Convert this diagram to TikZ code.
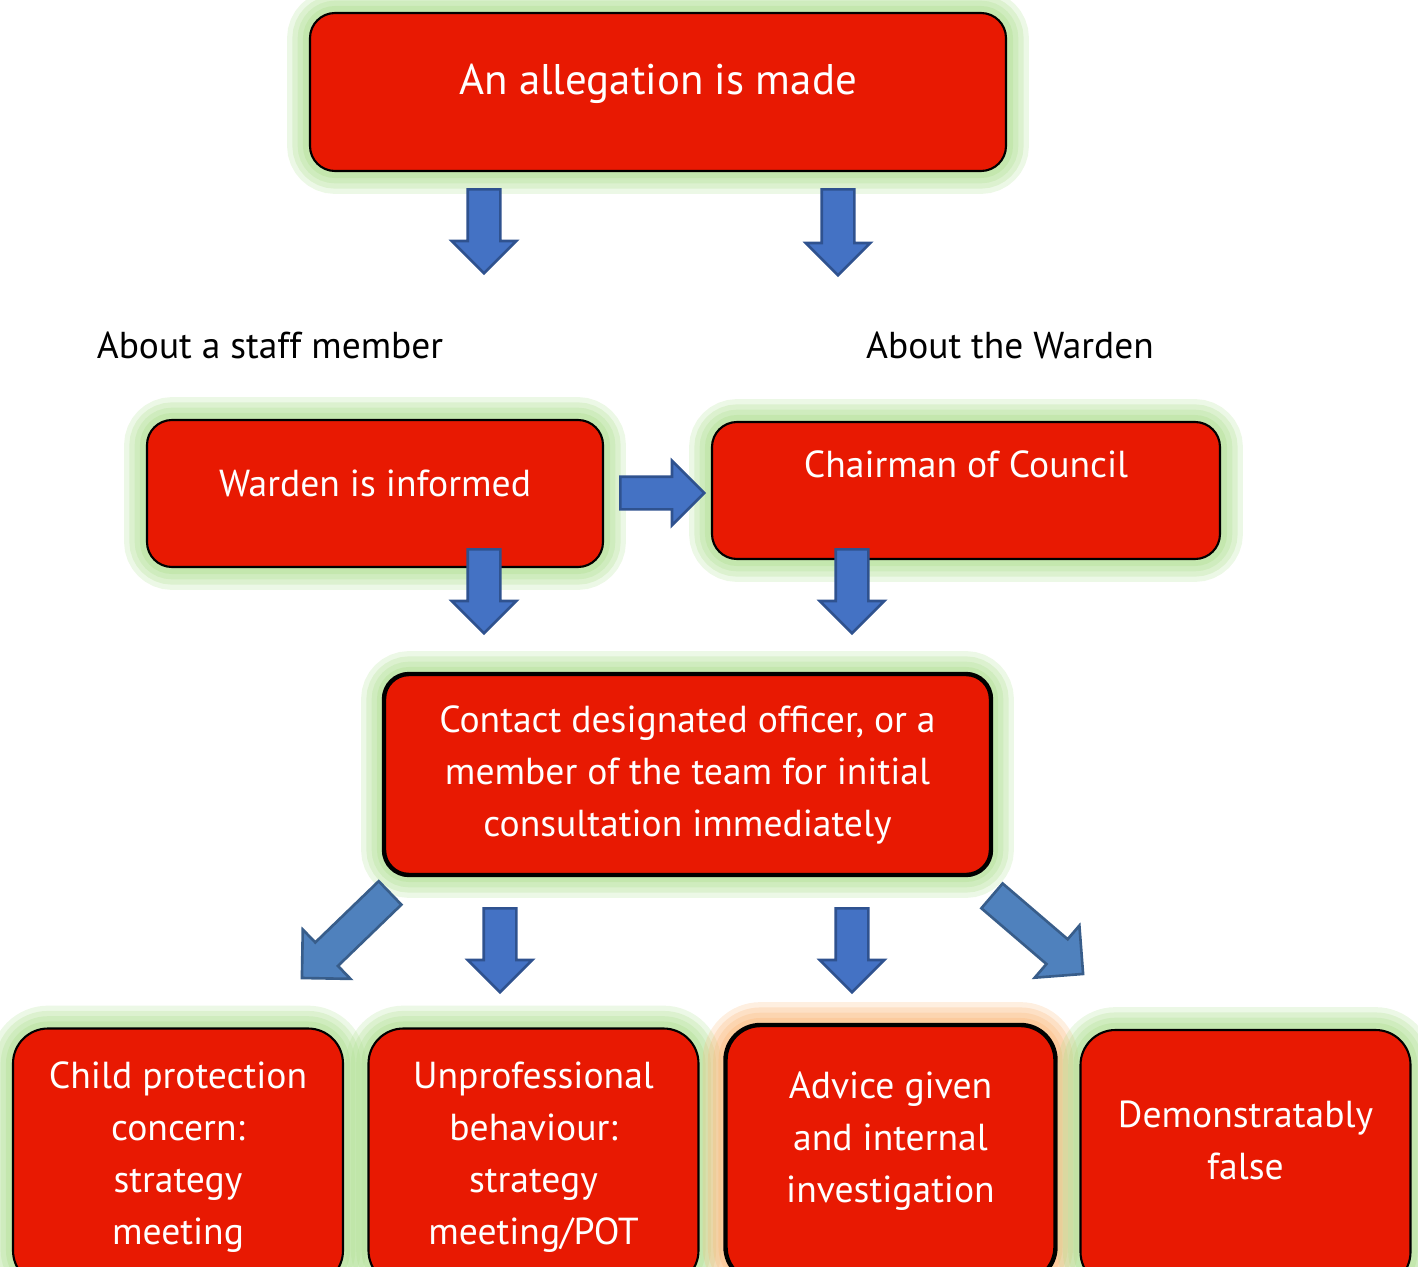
\documentclass[tikz,border=0pt]{standalone}
\usepackage{fontspec}
\setmainfont{PT Sans}
\usetikzlibrary{shapes,arrows,positioning}
\definecolor{boxred}{RGB}{232,25,2}
\definecolor{arrowblue}{RGB}{68,114,196}
\definecolor{arrowline}{RGB}{47,82,143}
\definecolor{diagblue}{RGB}{79,129,189}
\definecolor{diagline}{RGB}{56,93,138}
\definecolor{glowgreen}{RGB}{170,221,139}
\definecolor{gloworange}{RGB}{250,180,115}
\tikzstyle{block} = [rectangle, draw, rounded corners=0.5cm, fill=boxred,
                     text=white, align=center, line width=1.2pt,
                     font=\fontsize{21.4}{29.6}\selectfont]
\tikzstyle{outcome} = [block, rounded corners=0.7cm, minimum width=6.6cm,
                     minimum height=5.14cm]

\begin{document}
\begin{tikzpicture}[
glow/.style={preaction={draw=#1, line width=26pt, opacity=0.22},
             preaction={draw=#1, line width=20pt, opacity=0.25},
             preaction={draw=#1, line width=14pt, opacity=0.25},
             preaction={draw=#1, line width=8pt, opacity=0.3}},
blockarrow/.style={single arrow, draw=arrowline, fill=arrowblue, line width=1.5pt,
             inner sep=0pt, inner ysep=0.3cm, single arrow head extend=0.32cm,
             minimum height=1.68cm, anchor=tail},
diagarrow/.style={blockarrow, draw=diagline, fill=diagblue,
             single arrow head extend=0.36cm},
side/.style={font=\fontsize{21.3}{24}\selectfont},
boxtext/.style={text=white, align=center, font=\fontsize{21.4}{29.6}\selectfont}]
\useasboundingbox (0,0) rectangle (28.36,-25.34);
\clip (0,0) rectangle (28.36,-25.34);

%Allegation
\node[block, glow=glowgreen, minimum width=13.92cm, minimum height=3.16cm, text depth=0.5cm,
      font=\fontsize{24.4}{28}\selectfont] (alleg) at (13.16,-1.84) {An allegation is made};

% Who it is about
\node[side] (staff) at (5.4,-6.9) {About a staff member};
\node[side] (warden) at (20.2,-6.9) {About the Warden};

%Warden / Chairman
\node[block, glow=glowgreen, minimum width=9.12cm, minimum height=2.94cm, text depth=0.4cm] (informed) at (7.5,-9.87) {Warden is informed};
\node[block, glow=glowgreen, minimum width=10.16cm, minimum height=2.74cm] (chair) at (19.32,-9.81) {};
\node[boxtext] (chairtxt) at ([yshift=-0.86cm]chair.north) {Chairman of Council};

%Contact
\node[block, glow=glowgreen, line width=2.5pt, minimum width=12.14cm, minimum height=4.02cm] (contact) at (13.75,-15.49)
  {Contact designated officer, or a\\member of the team for initial\\consultation immediately};

% Outcomes
\node[outcome, glow=glowgreen] (child) at (3.56,-23.14) {Child protection\\concern:\\strategy\\meeting};
\node[outcome, glow=glowgreen] (unprof) at (10.67,-23.14) {Unprofessional\\behaviour:\\strategy\\meeting/POT};
\node[outcome, glow=gloworange, line width=2.5pt] (advice) at (17.81,-23.07) {};
\node[boxtext] (advicetxt) at ([yshift=0.25cm]advice.center) {Advice given\\and internal\\investigation};
\node[outcome, glow=glowgreen] (false) at (24.91,-23.17) {};
\node[boxtext] (falsetxt) at ([yshift=0.37cm]false.center) {Demonstratably\\false};

% Arrows
\node[blockarrow, rotate=-90] (a1) at (9.68,-3.76) {};
\node[blockarrow, rotate=-90, minimum height=1.72cm] (a2) at (16.76,-3.76) {};
\node[blockarrow] (a3) at (12.38,-9.86) {};
\node[blockarrow, rotate=-90] (a4) at (9.68,-10.96) {};
\node[blockarrow, rotate=-90] (a5) at (17.04,-10.96) {};
\node[diagarrow, rotate=224, minimum height=2.45cm] (a6) at (7.82,-17.84) {};
\node[blockarrow, rotate=-90] (a7) at (10,-18.14) {};
\node[blockarrow, rotate=-90] (a8) at (17.04,-18.14) {};
\node[diagarrow, rotate=-40.6, minimum height=2.4cm] (a9) at (19.82,-17.9) {};
\end{tikzpicture}
\end{document}
